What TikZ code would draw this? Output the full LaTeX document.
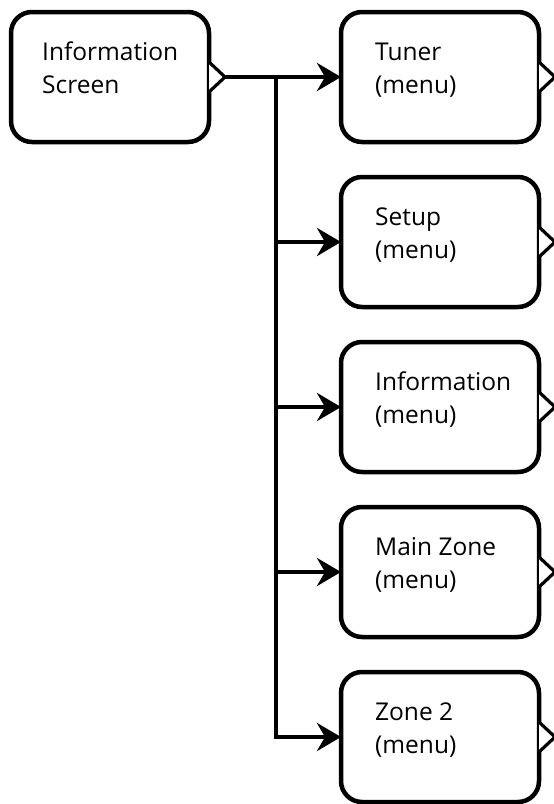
\documentclass[tikz,border=0pt]{standalone}
\usepackage{fontspec}
\setmainfont{Open Sans}
\usetikzlibrary{arrows.meta}
\begin{document}
\begin{tikzpicture}[x=1pt,y=-1pt,
  box/.style={draw=black, line width=4.5pt, rounded corners=21pt, fill=white,
    minimum width=198pt, minimum height=130pt, outer sep=0pt, inner sep=0pt},
  lbl/.style={anchor=north west, inner sep=0pt, align=left,
    font=\fontsize{24.5}{32.5}\selectfont},
  tri/.style={draw=black, line width=3.2pt, fill=white, line join=miter},
  arr/.style={draw=black, line width=4.3pt,
    -{Stealth[length=24pt,width=28pt,inset=8pt]}}]
\useasboundingbox (0,0) rectangle (554,804);
\fill[white] (0,0) rectangle (554,804);
% boxes
\node[box] (b0) at (110,77) {};
\node[box] (b1) at (440,77) {};
\node[box] (b2) at (440,242) {};
\node[box] (b3) at (440,407) {};
\node[box] (b4) at (440,572) {};
\node[box] (b5) at (440,737) {};
% labels
\node[lbl] (t0) at ([xshift=31pt,yshift=-26pt]b0.north west) {\strut Information\\Screen};
\node[lbl] (t1) at ([xshift=34pt,yshift=-26pt]b1.north west) {\strut Tuner\\(menu)};
\node[lbl] (t2) at ([xshift=34pt,yshift=-26pt]b2.north west) {\strut Setup\\(menu)};
\node[lbl] (t3) at ([xshift=34pt,yshift=-26pt]b3.north west) {\strut Information\\(menu)};
\node[lbl] (t4) at ([xshift=34pt,yshift=-26pt]b4.north west) {\strut Main Zone\\(menu)};
\node[lbl] (t5) at ([xshift=34pt,yshift=-26pt]b5.north west) {\strut Zone 2\\(menu)};
% triangles
\foreach \b in {b0,b1,b2,b3,b4,b5}{
  \draw[tri] ([yshift=15pt]\b.east) -- ([xshift=16pt]\b.east) -- ([yshift=-15pt]\b.east);
}
% connectors
\coordinate (tip0) at ([xshift=16pt]b0.east);
\coordinate (trunktop) at (276,77);
\draw[arr] (tip0) -- (b1.west);
\draw[arr] (trunktop) |- (b5.west);
\draw[arr] (b2.west -| trunktop) -- (b2.west);
\draw[arr] (b3.west -| trunktop) -- (b3.west);
\draw[arr] (b4.west -| trunktop) -- (b4.west);
\end{tikzpicture}
\end{document}
